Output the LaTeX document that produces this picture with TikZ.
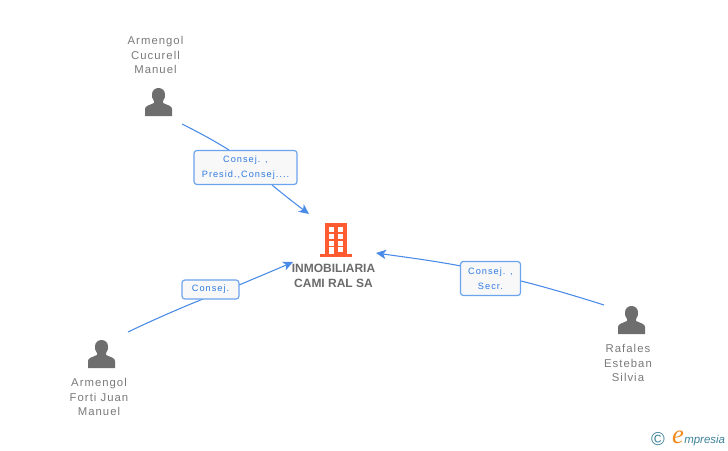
\documentclass[tikz,border=0pt]{standalone}
\usepackage{fontspec}
\setmainfont{Liberation Sans}
\newfontfamily\spaced[LetterSpace=9]{Liberation Sans}
\newfontfamily\spacedlabel[LetterSpace=11]{Liberation Sans}
\newfontfamily\logofont{Liberation Serif}
\usetikzlibrary{arrows.meta}
\definecolor{edgeblue}{HTML}{4A8BE8}
\definecolor{boxblue}{HTML}{6AA3EE}
\definecolor{boxfill}{HTML}{F8F8F8}
\definecolor{labelblue}{HTML}{2F7BE0}
\definecolor{persongray}{HTML}{6E6E6E}
\definecolor{textgray}{HTML}{7A7A7A}
\definecolor{titlegray}{HTML}{6B6B6B}
\definecolor{buildorange}{HTML}{FF5B31}
\definecolor{logoteal}{HTML}{3E8399}
\definecolor{logoorange}{HTML}{F08A1D}
\tikzset{
  x=0.75pt,y=-0.75pt,
  personname/.style={align=center,text=textgray,font=\spaced\fontsize{8.5}{11.2}\selectfont,inner sep=0pt},
  rolebox/.style={draw=boxblue,line width=0.9pt,rounded corners=2.2pt,fill=boxfill,text=labelblue,align=center,
    font=\spacedlabel\fontsize{6.9}{11.2}\selectfont,inner sep=0pt},
  link/.style={draw=edgeblue,line width=0.8pt},
  linkend/.style={link,-{Stealth[length=7.5pt,width=7pt,inset=2pt]}},
  company/.style={align=center,text=titlegray,font=\bfseries\fontsize{9}{11.2}\selectfont,inner sep=0pt},
  personicon/.pic={
    \fill[persongray] (-13.5,13.5) -- (-13.5,6.5) .. controls (-13.5,3.5) and (-10,3) .. (-4.5,0.5)
      -- (-4.5,-1.5) .. controls (-6.5,-4) and (-6.5,-6) .. (-6.5,-8)
      .. controls (-6.5,-12) and (-3.5,-14.5) .. (0,-14.5)
      .. controls (3.5,-14.5) and (6.5,-12) .. (6.5,-8)
      .. controls (6.5,-6) and (6.5,-4) .. (4.5,-1.5) -- (4.5,0.5)
      .. controls (10,3) and (13.5,3.5) .. (13.5,6.5) -- (13.5,13.5) -- cycle;
  }
}
\begin{document}
\begin{tikzpicture}
\useasboundingbox (0,0) rectangle (728,450);
\fill[white] (0,0) rectangle (728,450);

% anchors
\coordinate (p1) at (182,124);
\coordinate (p2) at (128,332);
\coordinate (p3) at (604,305);
\coordinate (c1) at (309,214);
\coordinate (c2) at (293,262);
\coordinate (c3) at (376,253);

% role boxes sit over the connectors
\draw[link] (p1) .. controls (197,131.5) and (213,140) .. (229,150);
\draw[linkend] (272,185) .. controls (284,195) and (297,205) .. (c1);
\draw[link] (p2) .. controls (152,320.5) and (177,309.5) .. (203,299);
\draw[linkend] (239,285) .. controls (258,277) and (276,269.5) .. (c2);
\draw[link] (p3) .. controls (577,296.5) and (549,288) .. (521,281);
\draw[linkend] (461,266) .. controls (432,260.5) and (404,257) .. (c3);

\node[rolebox,minimum width=103pt*0.75,minimum height=34pt*0.75] (r1) at (245.5,167.5)
  {Consej. ,\\Presid.,Consej....};
\node[rolebox,minimum width=57pt*0.75,minimum height=19pt*0.75] (r2) at (210.5,289.5) {Consej.};
\node[rolebox,minimum width=60pt*0.75,minimum height=34pt*0.75] (r3) at (490.5,278.5) {Consej. ,\\Secr.};

% people
\pic at (158.5,102.5) {personicon};
\pic at (101.5,354.5) {personicon};
\pic at (631.5,320.5) {personicon};
\node[personname] (n1) at (155.5,55) {Armengol\\Cucurell\\Manuel};
\node[personname] (n2) at (99,397) {Armengol\\Forti Juan\\Manuel};
\node[personname] (n3) at (628,363) {Rafales\\Esteban\\Silvia};

% company
\fill[buildorange] (325,223) rectangle (347,255);
\fill[buildorange] (320,254) rectangle (352,257);
\foreach \yy in {227,234,241}{
  \fill[white] (329,\yy) rectangle (334,\yy+5);
  \fill[white] (338,\yy) rectangle (343,\yy+5);
}
\fill[white] (329,247) rectangle (334,254);
\fill[white] (338,247) rectangle (343,252);
\node[company] (co) at (333.5,276) {INMOBILIARIA\\CAMI RAL SA};

% logo
\node[text=logoteal,font=\fontsize{14}{14}\selectfont,inner sep=0pt] (lg) at (658,439) {©};
\node[text=logoorange,font=\logofont\itshape\fontsize{20}{20}\selectfont,inner sep=0pt] (le) at (678,437) {e};
\node[text=logoteal,anchor=west,font=\itshape\fontsize{8.6}{9}\selectfont,inner sep=0pt] (lt) at (684,440.5) {mpresia};
\end{tikzpicture}
\end{document}
